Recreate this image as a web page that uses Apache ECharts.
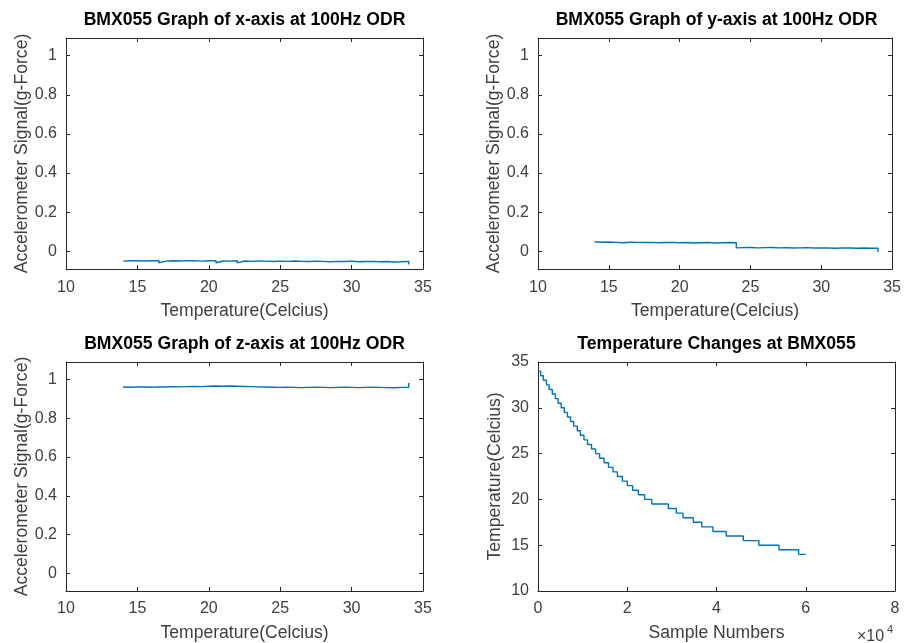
<!DOCTYPE html>
<html><head><meta charset="utf-8">
<script src="https://cdn.jsdelivr.net/npm/echarts@6/dist/echarts.min.js"></script>
<style>html,body{margin:0;padding:0;background:#fff;}#c{width:904px;height:643px;}</style>
</head><body><div id="c"></div>
<script>
// Temperature levels (Celcius) seen on the accelerometer plots
const tempLevels = [14,14.5,15,15.5,16,16.5,17,17.5,18,18.5,19,19.5,20,20.5,21,21.5,22,22.5,23,23.5,24,24.5,25,25.5,26,26.5,27,27.5,28,28.5,29,29.5,30,30.5,31,31.5,32,32.5,33,33.5,34];
// x-axis accelerometer signal, two readings per temperature level
const accXa = [-0.050,-0.048,-0.047,-0.049,-0.048,-0.047,-0.050,-0.048,-0.049,-0.047,-0.048,-0.050,-0.048,-0.047,-0.049,-0.050,-0.048,-0.049,-0.051,-0.049,-0.050,-0.052,-0.050,-0.051,-0.049,-0.051,-0.052,-0.050,-0.051,-0.053,-0.051,-0.052,-0.050,-0.053,-0.052,-0.051,-0.053,-0.052,-0.054,-0.053,-0.051];
const accXb = [-0.058,-0.057,-0.056,-0.058,-0.057,-0.058,-0.057,-0.056,-0.058,-0.057,-0.056,-0.058,-0.057,-0.058,-0.057,-0.058,-0.059,-0.057,-0.058,-0.059,-0.057,-0.059,-0.058,-0.057,-0.059,-0.058,-0.059,-0.060,-0.058,-0.059,-0.060,-0.058,-0.059,-0.060,-0.059,-0.061,-0.060,-0.059,-0.061,-0.060,-0.067];
// y-axis accelerometer signal
const accYa = [0.049,0.047,0.048,0.046,0.044,0.047,0.046,0.045,0.046,0.044,0.045,0.046,0.044,0.045,0.043,0.044,0.045,0.043,0.044,0.045,0.044,0.019,0.020,0.018,0.019,0.020,0.018,0.019,0.017,0.018,0.019,0.017,0.018,0.017,0.016,0.018,0.017,0.016,0.017,0.016,0.016];
const accYb = [0.045,0.044,0.042,0.043,0.041,0.043,0.042,0.041,0.043,0.041,0.042,0.042,0.041,0.042,0.040,0.041,0.042,0.040,0.041,0.042,0.018,0.016,0.017,0.015,0.016,0.017,0.015,0.016,0.014,0.016,0.015,0.014,0.015,0.014,0.013,0.015,0.014,0.013,0.014,0.013,-0.003];
// z-axis accelerometer signal
const accZa = [0.961,0.960,0.962,0.961,0.960,0.962,0.961,0.963,0.962,0.963,0.964,0.963,0.965,0.966,0.965,0.966,0.965,0.964,0.963,0.962,0.961,0.960,0.959,0.960,0.959,0.958,0.959,0.960,0.959,0.958,0.959,0.960,0.959,0.958,0.959,0.960,0.959,0.958,0.957,0.959,0.960];
const accZb = [0.954,0.953,0.955,0.954,0.953,0.954,0.955,0.954,0.955,0.956,0.955,0.957,0.956,0.957,0.958,0.957,0.956,0.957,0.956,0.955,0.954,0.953,0.952,0.953,0.952,0.953,0.952,0.953,0.952,0.951,0.952,0.953,0.952,0.951,0.952,0.953,0.952,0.951,0.950,0.952,0.982];
// Temperature vs sample number: sample where each 0.5 degree level begins
const sampleStarts = [0,600,1200,1900,2500,3200,3900,4500,5200,5900,6600,7300,8000,8800,9500,10300,11100,12000,12900,13800,14800,15800,16800,17800,18900,20000,21200,22500,23900,25500,29200,31000,32500,34800,36700,39200,42200,46000,49500,54000,58400,60000];
const sampleTemps = [34,33.5,33,32.5,32,31.5,31,30.5,30,29.5,29,28.5,28,27.5,27,26.5,26,25.5,25,24.5,24,23.5,23,22.5,22,21.5,21,20.5,20,19.5,19,18.5,18,17.5,17,16.5,16,15.5,15,14.5,14,14];
const accTicks = [0,0.2,0.4,0.6,0.8,1];
const titles = ['BMX055 Graph of x-axis at 100Hz ODR','BMX055 Graph of y-axis at 100Hz ODR','BMX055 Graph of z-axis at 100Hz ODR','Temperature Changes at BMX055'];

function pairs(a, b) {
  const out = [];
  for (let i = 0; i < tempLevels.length; i++) {
    out.push([tempLevels[i], a[i]]);
    out.push([tempLevels[i], b[i]]);
  }
  return out;
}

const FONT = '"Liberation Sans", Arial, Helvetica, sans-serif';
const AX = '#262626', TXT = '#404040', BLUE = '#0072BD';
const grids = [
  {left: 66, top: 38, width: 357, height: 231},
  {left: 538, top: 38, width: 357, height: 231},
  {left: 66, top: 362, width: 357, height: 230},
  {left: 538, top: 362, width: 357, height: 230}
];

const xAxes = [], yAxes = [];
grids.forEach((g, i) => {
  const isTemp = i === 3;
  const xBase = {
    type: 'value', gridIndex: i,
    min: isTemp ? 0 : 10, max: isTemp ? 80000 : 35, interval: isTemp ? 20000 : 5,
    axisLine: {show: true, onZero: false, lineStyle: {color: AX, width: 1}},
    axisTick: {show: true, inside: true, length: 4, lineStyle: {color: AX}},
    splitLine: {show: false}
  };
  xAxes.push(Object.assign({}, xBase, {
    position: 'bottom',
    axisLabel: {show: true, margin: i < 2 ? 11 : 10, fontSize: 16, color: TXT, fontFamily: FONT,
      formatter: isTemp ? (v => String(v / 10000)) : (v => String(v))},
    name: isTemp ? 'Sample Numbers' : 'Temperature(Celcius)',
    nameLocation: 'middle', nameGap: 33,
    nameTextStyle: {fontSize: 17.6, color: TXT, fontFamily: FONT}
  }));
  xAxes.push(Object.assign({}, xBase, {position: 'top', axisLabel: {show: false}}));

  const yBase = isTemp ? {
    type: 'value', gridIndex: i, min: 10, max: 35, interval: 5
  } : {
    type: 'value', gridIndex: i, min: -0.09, max: 1.09
  };
  Object.assign(yBase, {
    axisLine: {show: true, onZero: false, lineStyle: {color: AX, width: 1}},
    axisTick: {show: true, inside: true, length: 4, lineStyle: {color: AX}},
    splitLine: {show: false}
  });
  if (!isTemp) yBase.axisTick.customValues = accTicks;
  const yLeft = Object.assign({}, yBase, {
    position: 'left',
    axisLabel: {show: true, margin: 9, fontSize: 16, color: TXT, fontFamily: FONT},
    name: isTemp ? 'Temperature(Celcius)' : 'Accelerometer Signal(g-Force)',
    nameLocation: 'middle', nameGap: 34,
    nameTextStyle: {fontSize: 17.6, color: TXT, fontFamily: FONT}
  });
  if (!isTemp) yLeft.axisLabel.customValues = accTicks;
  yAxes.push(yLeft);
  yAxes.push(Object.assign({}, yBase, {position: 'right', axisLabel: {show: false}}));
});

const tempData = sampleStarts.map((n, i) => [n, sampleTemps[i]]);
const lineStyle = {color: BLUE, width: 1.4};
const series = [
  {type: 'line', xAxisIndex: 0, yAxisIndex: 0, data: pairs(accXa, accXb), showSymbol: false, lineStyle, animation: false},
  {type: 'line', xAxisIndex: 2, yAxisIndex: 2, data: pairs(accYa, accYb), showSymbol: false, lineStyle, animation: false},
  {type: 'line', xAxisIndex: 4, yAxisIndex: 4, data: pairs(accZa, accZb), showSymbol: false, lineStyle, animation: false},
  {type: 'line', xAxisIndex: 6, yAxisIndex: 6, data: tempData, step: 'end', showSymbol: false, lineStyle, animation: false}
];

const title = grids.map((g, i) => ({
  text: titles[i], left: g.left + g.width / 2, top: i < 2 ? 11 : 335, textAlign: 'center', padding: 0,
  textStyle: {fontSize: 17.6, fontWeight: 'bold', color: '#000', fontFamily: FONT}
}));

const chart = echarts.init(document.getElementById('c'), null, {renderer: 'canvas'});
chart.setOption({
  animation: false,
  backgroundColor: '#fff',
  title,
  grid: grids,
  xAxis: xAxes,
  yAxis: yAxes,
  series,
  graphic: [
    {type: 'text', left: 857, top: 629, style: {text: '×10', fontSize: 16, fill: TXT, fontFamily: FONT}},
    {type: 'text', left: 887, top: 624, style: {text: '4', fontSize: 11, fill: TXT, fontFamily: FONT}}
  ]
});
</script>
</body></html>
